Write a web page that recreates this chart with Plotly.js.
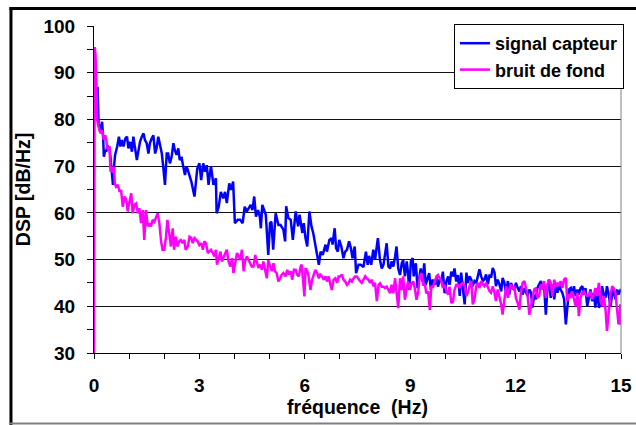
<!DOCTYPE html>
<html><head><meta charset="utf-8">
<script src="https://cdn.plot.ly/plotly-3.0.1.min.js"></script>
<style>html,body{margin:0;padding:0;background:#fff}#chart{width:636px;height:425px}</style>
</head><body><div id="chart"></div>
<script>
const seriesNames = ["signal capteur", "bruit de fond"];
const xTickVals = [0, 3, 6, 9, 12, 15];
const yTickVals = [30, 40, 50, 60, 70, 80, 90, 100];

const freqSignal = [0.10,0.13,0.17,0.23,0.26,0.28,0.32,0.35,0.38,0.42,0.44,0.49,0.54,0.57,0.60,0.66,0.71,0.75,0.79,0.84,0.89,0.94,0.98,1.03,1.08,1.12,1.17,1.22,1.26,1.31,1.36,1.41,1.45,1.50,1.55,1.59,1.64,1.69,1.74,1.78,1.83,1.88,1.93,1.97,2.02,2.07,2.11,2.16,2.21,2.26,2.30,2.35,2.40,2.44,2.49,2.54,2.59,2.63,2.67,2.77,2.86,2.94,3.00,3.05,3.11,3.16,3.21,3.26,3.33,3.40,3.47,3.49,3.55,3.61,3.68,3.73,3.78,3.85,3.90,3.96,4.01,4.09,4.16,4.23,4.29,4.35,4.42,4.46,4.51,4.56,4.61,4.67,4.72,4.75,4.79,4.84,4.89,4.96,5.01,5.05,5.10,5.17,5.25,5.31,5.39,5.44,5.47,5.53,5.60,5.66,5.74,5.81,5.85,5.93,5.97,6.02,6.07,6.13,6.19,6.24,6.30,6.40,6.45,6.51,6.59,6.63,6.70,6.76,6.79,6.85,6.89,6.94,6.98,7.04,7.10,7.15,7.20,7.26,7.31,7.36,7.42,7.46,7.53,7.59,7.67,7.74,7.79,7.83,7.89,7.95,8.00,8.08,8.14,8.19,8.24,8.28,8.33,8.38,8.43,8.47,8.52,8.57,8.61,8.66,8.71,8.76,8.80,8.85,8.90,8.94,8.97,9.02,9.07,9.10,9.16,9.21,9.26,9.30,9.35,9.40,9.44,9.49,9.54,9.59,9.63,9.70,9.75,9.79,9.84,9.89,9.93,9.98,10.03,10.08,10.12,10.17,10.22,10.26,10.31,10.36,10.41,10.45,10.50,10.55,10.60,10.64,10.69,10.74,10.78,10.83,10.88,10.93,10.97,11.02,11.07,11.11,11.16,11.21,11.26,11.30,11.35,11.40,11.44,11.49,11.54,11.59,11.63,11.68,11.73,11.78,11.82,11.87,11.92,11.96,12.01,12.06,12.11,12.15,12.20,12.25,12.29,12.34,12.39,12.44,12.48,12.53,12.58,12.62,12.67,12.72,12.77,12.81,12.86,12.91,12.95,13.00,13.05,13.10,13.14,13.19,13.24,13.28,13.33,13.38,13.43,13.47,13.52,13.57,13.61,13.66,13.71,13.76,13.80,13.85,13.90,13.94,13.99,14.04,14.09,14.13,14.18,14.23,14.27,14.32,14.37,14.42,14.46,14.51,14.56,14.60,14.65,14.70,14.75,14.79,14.84,14.89,14.93,14.98,15.00];
const dspSignal = [87.0,79.1,77.4,79.5,76.3,72.0,73.4,73.1,74.5,73.4,74.2,69.5,66.0,69.9,72.4,74.2,76.3,74.2,75.6,74.2,75.9,76.3,73.8,75.2,73.1,76.3,73.8,71.3,73.1,75.2,76.3,77.0,75.6,74.9,72.7,74.9,75.9,76.6,72.7,73.8,76.3,74.2,72.7,69.9,66.0,72.7,72.7,70.6,72.0,74.9,73.4,72.4,73.8,71.3,72.0,69.9,68.1,69.9,69.2,66.7,63.5,69.5,70.6,67.0,70.6,68.8,70.2,66.0,70.0,66.0,67.4,59.9,61.3,64.5,63.1,64.5,62.1,66.3,64.9,66.7,57.8,58.5,58.5,57.8,61.3,60.3,61.3,61.7,60.6,63.5,59.2,60.6,59.2,56.7,61.7,60.6,59.6,51.0,57.8,58.1,52.1,59.9,57.4,57.4,56.4,53.9,61.4,58.9,58.5,54.2,60.3,57.1,59.6,55.7,57.8,54.6,52.8,60.3,57.1,55.7,53.2,48.9,51.7,51.0,53.2,51.7,54.2,54.6,53.2,56.7,52.5,51.7,54.2,52.8,50.3,51.7,52.1,53.9,52.5,50.3,52.8,47.1,48.9,48.9,48.4,51.7,48.9,50.8,48.9,52.1,50.0,54.6,49.9,48.1,48.9,50.6,53.5,48.5,48.1,49.6,48.5,50.6,52.8,48.1,46.7,49.2,49.9,46.4,49.6,47.1,43.5,49.6,50.3,46.4,49.2,43.9,46.4,48.1,45.3,49.2,44.6,46.0,47.1,43.5,45.7,44.6,46.4,44.2,45.7,45.3,47.4,42.8,45.3,46.4,44.6,47.4,46.4,48.1,45.3,46.7,42.2,47.2,44.3,40.4,47.2,45.0,46.4,45.7,44.3,45.4,45.0,46.4,47.9,46.4,45.4,45.7,46.8,44.7,46.8,46.1,48.2,47.2,44.3,45.7,44.7,43.2,46.1,45.0,42.9,45.4,42.5,45.0,43.9,43.6,45.0,43.9,43.2,44.3,42.5,43.9,42.9,42.2,43.6,42.9,39.7,42.5,41.5,43.9,44.7,45.4,43.6,44.7,38.2,44.3,45.7,41.8,44.7,41.5,44.3,42.9,44.7,43.6,42.9,41.5,36.1,40.4,43.6,43.9,42.2,44.3,42.2,43.6,42.5,43.9,44.3,42.5,43.9,40.0,41.8,43.6,41.1,42.9,39.7,43.9,39.7,40.4,44.3,42.5,41.8,44.3,42.5,40.0,42.5,43.6,41.5,43.6,42.5,43.6,43.7];

const freqBruit = [0.00,0.02,0.04,0.07,0.09,0.13,0.19,0.23,0.28,0.32,0.35,0.38,0.42,0.44,0.47,0.51,0.54,0.57,0.59,0.63,0.68,0.73,0.77,0.82,0.87,0.92,0.96,1.01,1.06,1.10,1.15,1.20,1.25,1.29,1.34,1.39,1.43,1.48,1.53,1.58,1.62,1.67,1.72,1.81,1.86,1.91,1.95,2.00,2.05,2.09,2.14,2.19,2.24,2.28,2.33,2.38,2.42,2.47,2.52,2.57,2.61,2.67,2.72,2.77,2.81,2.86,2.91,2.95,3.00,3.05,3.10,3.14,3.19,3.24,3.28,3.33,3.38,3.43,3.47,3.50,3.55,3.60,3.64,3.69,3.74,3.78,3.83,3.88,3.93,3.97,4.02,4.07,4.12,4.16,4.21,4.26,4.30,4.35,4.40,4.45,4.49,4.54,4.59,4.63,4.68,4.73,4.78,4.82,4.87,4.92,4.96,5.01,5.06,5.11,5.15,5.20,5.25,5.30,5.34,5.39,5.45,5.50,5.55,5.60,5.64,5.69,5.74,5.78,5.83,5.88,5.91,5.94,5.99,6.02,6.07,6.11,6.16,6.21,6.26,6.30,6.35,6.40,6.44,6.49,6.54,6.59,6.63,6.68,6.73,6.77,6.82,6.87,6.92,6.96,7.01,7.06,7.10,7.15,7.20,7.25,7.29,7.34,7.39,7.43,7.48,7.53,7.58,7.62,7.67,7.72,7.76,7.81,7.86,7.91,7.95,8.00,8.05,8.10,8.14,8.19,8.24,8.28,8.33,8.38,8.43,8.47,8.52,8.57,8.61,8.66,8.71,8.76,8.80,8.85,8.90,8.94,8.99,9.04,9.09,9.13,9.18,9.23,9.27,9.32,9.37,9.42,9.46,9.51,9.56,9.60,9.65,9.70,9.75,9.79,9.84,9.89,9.93,9.98,10.03,10.08,10.12,10.17,10.22,10.26,10.31,10.36,10.41,10.45,10.50,10.55,10.60,10.64,10.69,10.74,10.78,10.83,10.88,10.93,10.97,11.02,11.07,11.11,11.16,11.21,11.26,11.30,11.35,11.40,11.44,11.49,11.54,11.59,11.63,11.68,11.73,11.78,11.82,11.87,11.92,11.96,12.01,12.06,12.11,12.15,12.20,12.25,12.29,12.34,12.39,12.44,12.48,12.53,12.58,12.62,12.67,12.72,12.77,12.81,12.86,12.91,12.95,13.00,13.05,13.10,13.14,13.19,13.24,13.28,13.33,13.38,13.43,13.47,13.52,13.57,13.61,13.66,13.71,13.76,13.80,13.85,13.90,13.94,13.99,14.04,14.09,14.13,14.18,14.23,14.27,14.32,14.37,14.42,14.46,14.51,14.56,14.60,14.65,14.70,14.75,14.79,14.84,14.89,14.93,14.98,15.00];
const dspBruit = [30.0,95.5,94.1,87.0,79.9,78.4,77.0,77.7,75.6,76.6,75.6,73.8,73.4,74.2,68.8,69.9,68.5,69.9,66.3,65.6,66.0,64.5,64.9,61.3,63.5,62.8,60.3,62.4,64.2,59.9,61.7,62.0,59.9,61.0,57.8,60.6,54.2,60.6,57.1,57.8,57.1,58.5,58.1,59.9,57.8,53.9,52.1,52.1,54.9,58.5,54.9,52.8,56.7,52.1,54.9,52.8,53.9,54.2,53.5,54.2,52.1,52.8,54.9,54.6,53.5,54.6,54.2,53.9,53.1,53.5,52.1,53.9,53.5,51.4,51.7,52.1,51.4,50.7,52.1,48.9,50.3,51.7,49.6,50.7,51.4,52.1,49.6,48.5,50.3,47.1,49.6,51.4,50.7,49.9,52.1,47.5,49.6,50.7,49.9,49.2,48.5,48.5,51.0,49.6,48.2,48.9,47.8,49.6,47.8,46.0,49.9,48.9,47.5,49.2,47.5,47.1,45.3,46.0,46.7,47.1,46.4,47.8,46.8,47.5,45.7,47.8,47.8,46.8,46.4,48.5,48.9,46.4,42.1,48.2,47.5,46.4,43.5,45.7,46.8,47.8,47.1,46.0,46.8,46.4,45.7,46.4,45.3,46.4,44.6,43.5,45.7,46.0,45.0,46.4,46.4,46.8,45.7,45.3,44.6,45.0,45.7,45.3,46.0,46.4,46.4,45.7,45.3,45.0,45.7,46.4,46.0,45.7,45.0,45.7,44.3,45.0,41.1,44.6,44.9,44.2,44.2,43.9,44.2,43.5,42.8,44.6,42.8,46.0,43.5,39.6,46.0,43.5,46.4,41.4,43.9,45.3,43.5,44.9,45.3,43.9,41.4,43.2,46.4,47.1,44.6,44.6,42.8,43.2,39.2,44.2,44.2,45.3,46.4,46.7,46.0,45.3,43.9,44.6,43.2,42.5,44.2,40.7,41.0,43.5,44.6,44.6,43.9,44.7,45.0,44.3,42.2,42.9,44.3,45.4,40.4,41.5,44.3,45.0,43.9,45.4,44.7,44.3,45.0,43.9,43.2,42.9,44.3,42.9,41.1,43.6,42.2,40.4,38.2,41.1,44.3,41.8,43.6,44.7,43.6,44.3,41.8,40.7,39.3,42.9,45.0,45.4,43.9,42.5,38.2,40.0,42.2,43.6,43.9,41.8,42.2,44.7,43.6,45.4,41.8,44.7,45.7,45.0,42.2,45.7,44.3,45.0,44.3,45.4,43.9,45.7,46.1,41.1,42.5,41.8,43.2,41.8,40.0,42.9,37.9,41.8,42.9,43.2,42.5,42.2,42.5,43.2,41.5,42.5,43.9,42.2,45.0,41.1,40.0,42.2,39.3,34.7,39.3,42.5,44.3,43.9,42.9,38.6,36.1,40.4,36.0];

const FONT = 'Liberation Sans, Arial, sans-serif';

const traces = [
  {x: freqSignal, y: dspSignal, name: seriesNames[0], type: 'scatter', mode: 'lines',
   line: {color: '#0000FF', width: 2.5}, legendgroup: 'a'},
  {x: freqBruit, y: dspBruit, name: seriesNames[1], type: 'scatter', mode: 'lines',
   line: {color: '#FF00FF', width: 2.5}, legendgroup: 'b'}
];

// plot area in px: x 94..624, y 26..353
const L = 94, R = 12, T = 26, B = 72, W = 636 - L - R, H = 425 - T - B;
const px = v => (v - L) / W;
const py = v => (T + H - v) / H;

const layout = {
  width: 636, height: 425,
  margin: {l: L, r: R, t: T, b: B, pad: 0},
  paper_bgcolor: '#fff', plot_bgcolor: '#fff',
  font: {family: FONT, color: '#000'},
  showlegend: true,
  legend: {x: px(456), xanchor: 'left', y: py(24), yanchor: 'top',
    bgcolor: '#fff', bordercolor: '#000', borderwidth: 1,
    font: {family: FONT, size: 18, weight: 'bold', color: '#000'},
    traceorder: 'grouped', tracegroupgap: 0, itemwidth: 30},
  xaxis: {range: [0, 15], tickvals: xTickVals, ticks: 'outside', ticklen: 5, tickwidth: 1, tickcolor: '#000',
    showline: true, linecolor: '#000', linewidth: 1, showgrid: false, zeroline: false,
    minor: {dtick: 1, tick0: 0, ticks: 'outside', ticklen: 5, tickcolor: '#000', showgrid: false},
    tickfont: {family: FONT, size: 19, weight: 'bold', color: '#000'}, ticklabelstandoff: 10,
    title: {text: 'fréquence\u00a0\u00a0(Hz)', font: {family: FONT, size: 19.5, weight: 'bold', color: '#000'}, standoff: 5},
    fixedrange: true},
  yaxis: {range: [30, 100], tickvals: yTickVals, ticks: 'outside', ticklen: 6, tickwidth: 1, tickcolor: '#000',
    showline: true, linecolor: '#000', linewidth: 1, showgrid: true, gridcolor: '#111', gridwidth: 1, zeroline: false,
    minor: {dtick: 5, tick0: 0, ticks: 'outside', ticklen: 6, tickcolor: '#000', showgrid: false},
    tickfont: {family: FONT, size: 19, weight: 'bold', color: '#000'}, ticklabelstandoff: 8,
    title: {text: 'DSP [dB/Hz]', font: {family: FONT, size: 19.5, weight: 'bold', color: '#000'}, standoff: 7},
    fixedrange: true},
  shapes: [
    {type: 'line', xref: 'paper', yref: 'paper', x0: 1, x1: 1, y0: 0, y1: 1, line: {color: '#808080', width: 1}},
    {type: 'line', xref: 'paper', yref: 'paper', x0: px(10.5), x1: px(10.5), y0: py(7), y1: py(426), line: {color: '#000', width: 3}},
    {type: 'line', xref: 'paper', yref: 'paper', x0: px(9), x1: px(640), y0: py(8.5), y1: py(8.5), line: {color: '#000', width: 3}},
    {type: 'line', xref: 'paper', yref: 'paper', x0: px(9), x1: px(640), y0: py(423.5), y1: py(423.5), line: {color: '#808080', width: 2}}
  ]
};

Plotly.newPlot('chart', traces, layout, {staticPlot: true, displayModeBar: false});
</script>
</body></html>
